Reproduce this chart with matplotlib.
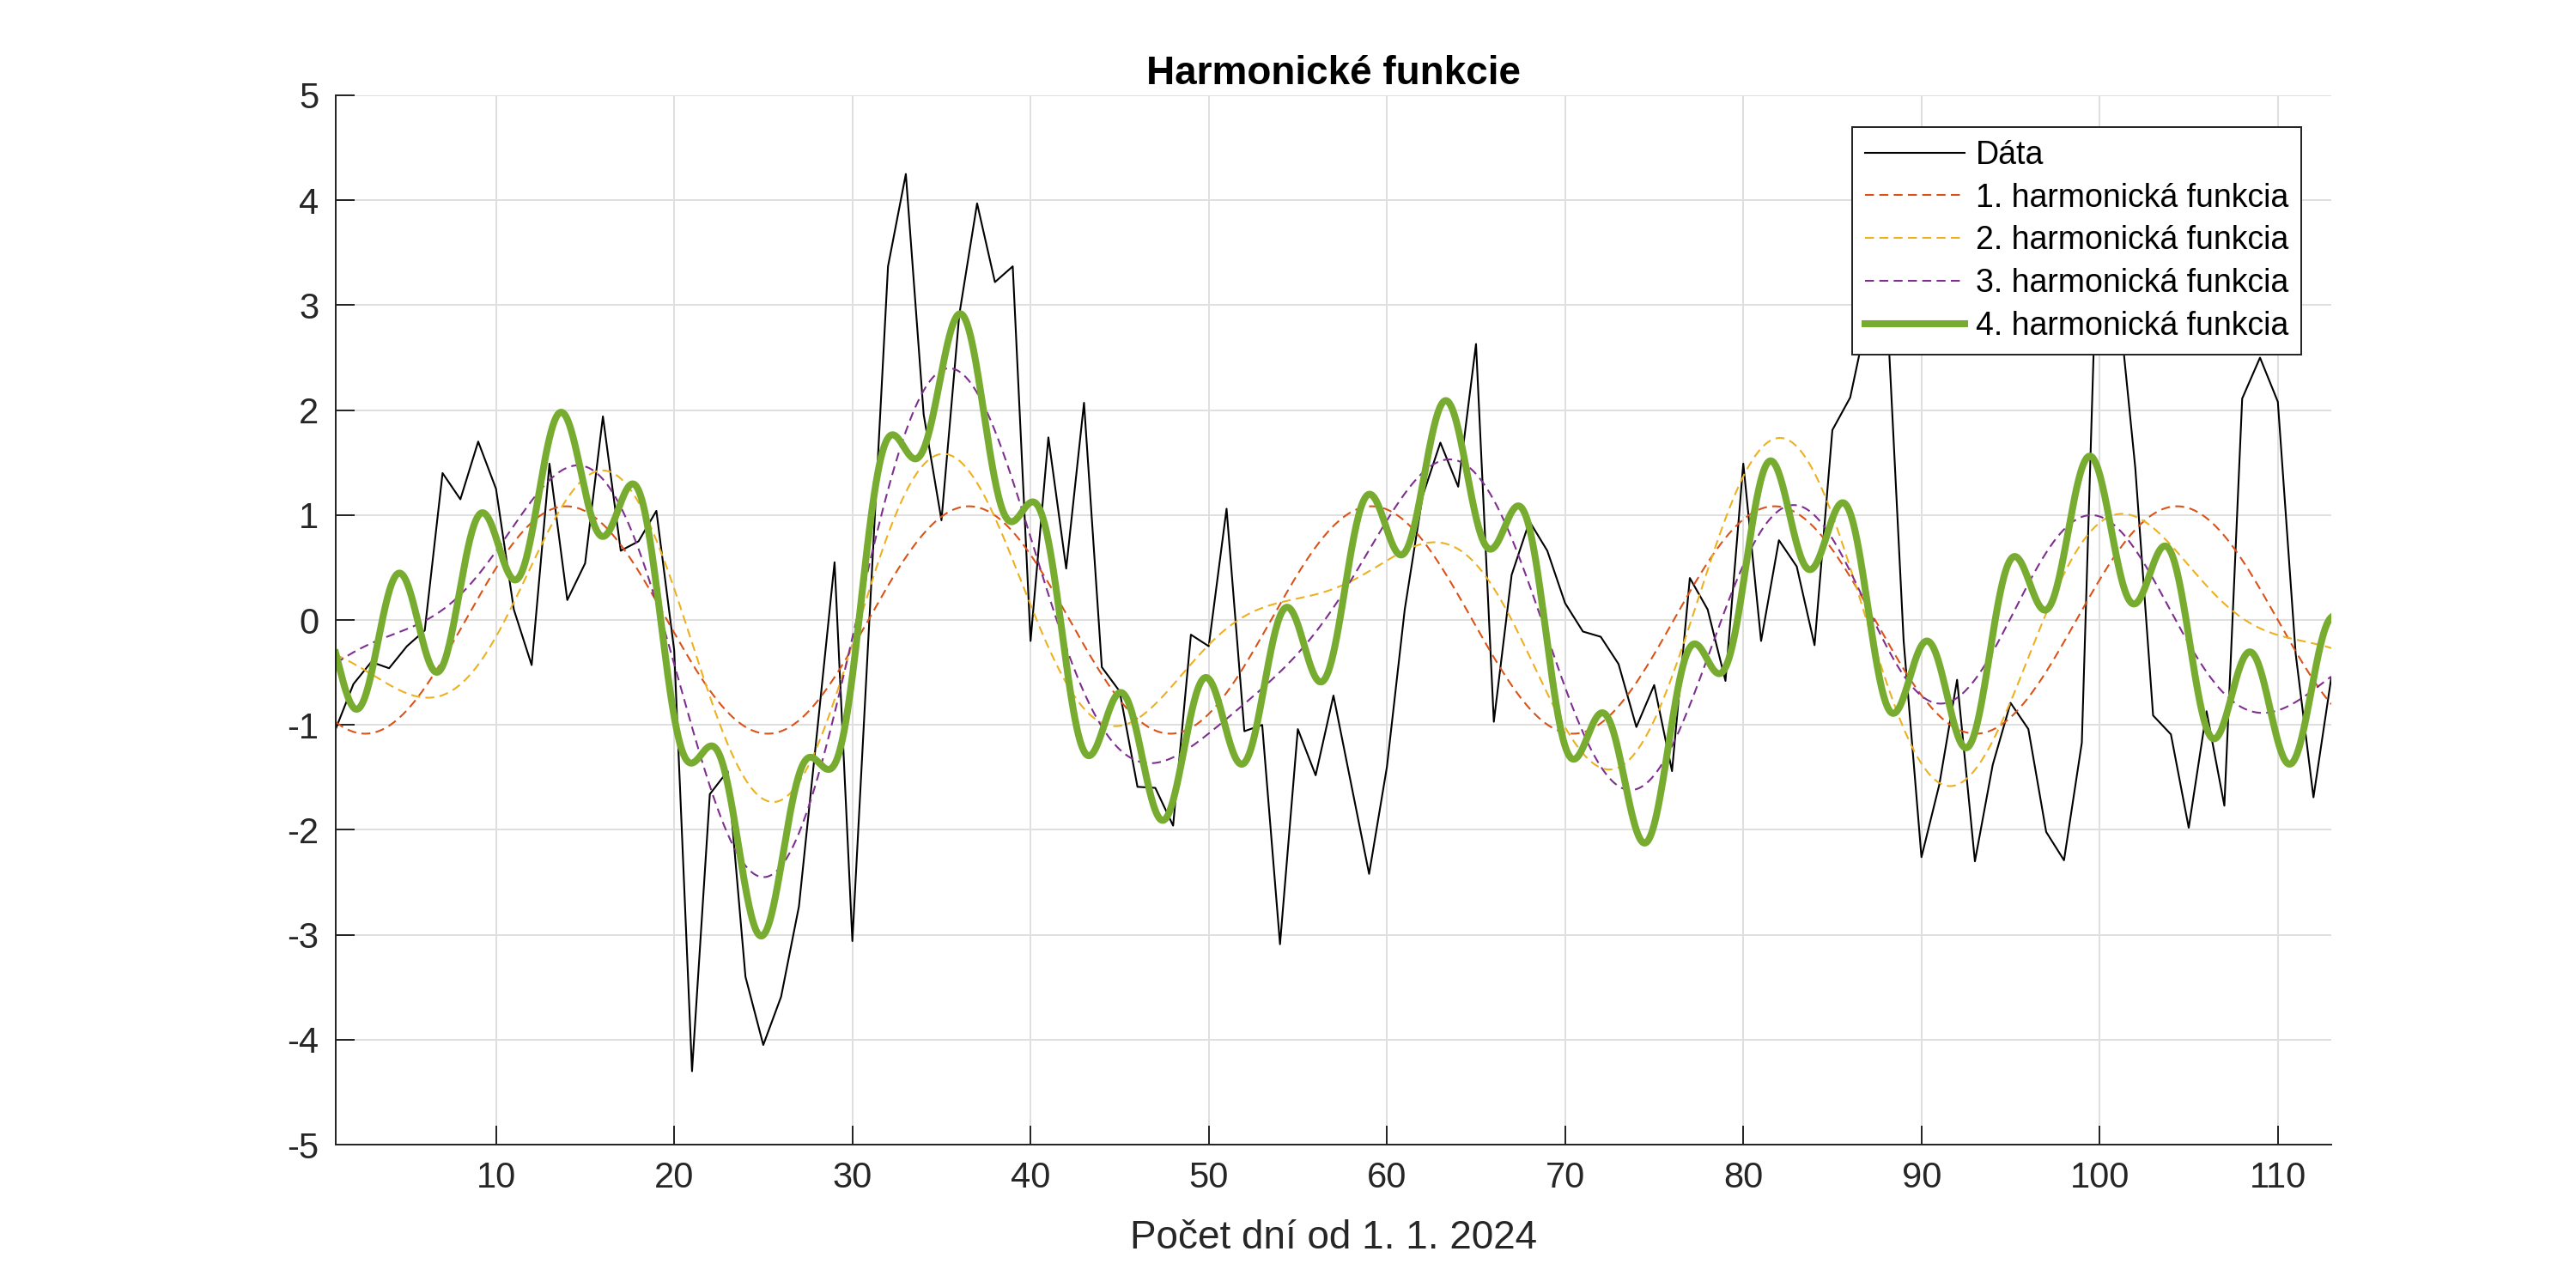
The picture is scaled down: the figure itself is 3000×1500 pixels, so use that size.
import numpy as np
import matplotlib
matplotlib.use("Agg")
import matplotlib.pyplot as plt

# ---- data ----
days = list(range(1, 114))
values = [
    -1.04, -0.61, -0.40, -0.46, -0.25, -0.10, 1.40, 1.15, 1.70, 1.25,
    0.10, -0.43, 1.49, 0.19, 0.54, 1.94, 0.66, 0.75, 1.04, -0.29,
    -4.30, -1.66, -1.44, -3.40, -4.05, -3.59, -2.73, -1.10, 0.55, -3.06,
    0.15, 3.37, 4.25, 1.96, 0.95, 2.91, 3.97, 3.22, 3.37, -0.20,
    1.74, 0.49, 2.07, -0.45, -0.68, -1.59, -1.60, -1.96, -0.14, -0.25,
    1.06, -1.06, -1.00, -3.09, -1.04, -1.48, -0.72, -1.57, -2.42, -1.40,
    0.10, 1.18, 1.69, 1.27, 2.63, -0.97, 0.43, 0.94, 0.66, 0.16,
    -0.11, -0.16, -0.42, -1.02, -0.62, -1.44, 0.40, 0.10, -0.58, 1.49,
    -0.20, 0.76, 0.51, -0.24, 1.81, 2.12, 2.92, 3.20, -0.20, -2.26,
    -1.57, -0.57, -2.30, -1.38, -0.79, -1.04, -2.02, -2.29, -1.17, 4.45,
    3.15, 1.45, -0.91, -1.09, -1.98, -0.87, -1.77, 2.11, 2.50, 2.08,
    -0.32, -1.69, -0.55,
]
# Fourier harmonics (cycles per whole record) added one after another
harmonic_k = [5, 7, 4, 25]
labels = ["Dáta", "1. harmonická funkcia", "2. harmonická funkcia",
          "3. harmonická funkcia", "4. harmonická funkcia"]
x_ticks = [10, 20, 30, 40, 50, 60, 70, 80, 90, 100, 110]
y_ticks = [-5, -4, -3, -2, -1, 0, 1, 2, 3, 4, 5]

# ---- harmonic analysis of the data ----
x = np.asarray(days, dtype=float)
y = np.asarray(values, dtype=float)
N = len(y)
C = np.fft.fft(y)
t = np.linspace(x[0], x[-1], 3000)
comps = []
for k in harmonic_k:
    c = 2 * C[k] / N
    comps.append(np.real(c * np.exp(2j * np.pi * k * t / N)))
cum = np.cumsum(comps, axis=0)

# ---- figure ----
plt.rcParams['font.family'] = ['Liberation Sans', 'DejaVu Sans']
plt.rcParams['axes.unicode_minus'] = False
fig = plt.figure(figsize=(15, 7.5), dpi=200)
ax = fig.add_axes([0.1303, 0.1113, 0.7747, 0.8147])

gc = '#262626'
ax.plot(x, y, color='black', lw=0.75, label=labels[0])
cols = ['#D95319', '#EDB120', '#7E2F8E']
for i in range(3):
    ax.plot(t, cum[i], color=cols[i], lw=0.75, linestyle=(0, (5, 3)), label=labels[i + 1])
ax.plot(t, cum[3], color='#77AC30', lw=2.9, label=labels[4])

ax.set_xlim(1, 113)
ax.set_ylim(-5, 5)
ax.set_xticks(x_ticks)
ax.set_yticks(y_ticks)
ax.grid(True, color='#dfdfdf', lw=0.72)
ax.set_axisbelow(True)
for s in ['top', 'right']:
    ax.spines[s].set_visible(False)
for s in ['left', 'bottom']:
    ax.spines[s].set_color(gc)
    ax.spines[s].set_linewidth(0.72)
ax.tick_params(direction='in', length=8, width=0.72, color=gc, labelcolor=gc, labelsize=15)
ax.tick_params(axis='x', pad=7)
ax.tick_params(axis='y', pad=7)
ax.set_xlabel('Počet dní od 1. 1. 2024', fontsize=16.5, color=gc, labelpad=10)
ax.set_title('Harmonické funkcie', fontsize=16.5, fontweight='bold', pad=4.5)

leg = ax.legend(loc='upper right', bbox_to_anchor=(0.985, 0.970), borderaxespad=0,
                fontsize=13.5, handlelength=3.1, handletextpad=0.35, labelspacing=0.37,
                fancybox=False, framealpha=1, edgecolor=gc, borderpad=0.4)
leg.get_frame().set_linewidth(0.72)

fig.savefig('out.png', dpi=200)
